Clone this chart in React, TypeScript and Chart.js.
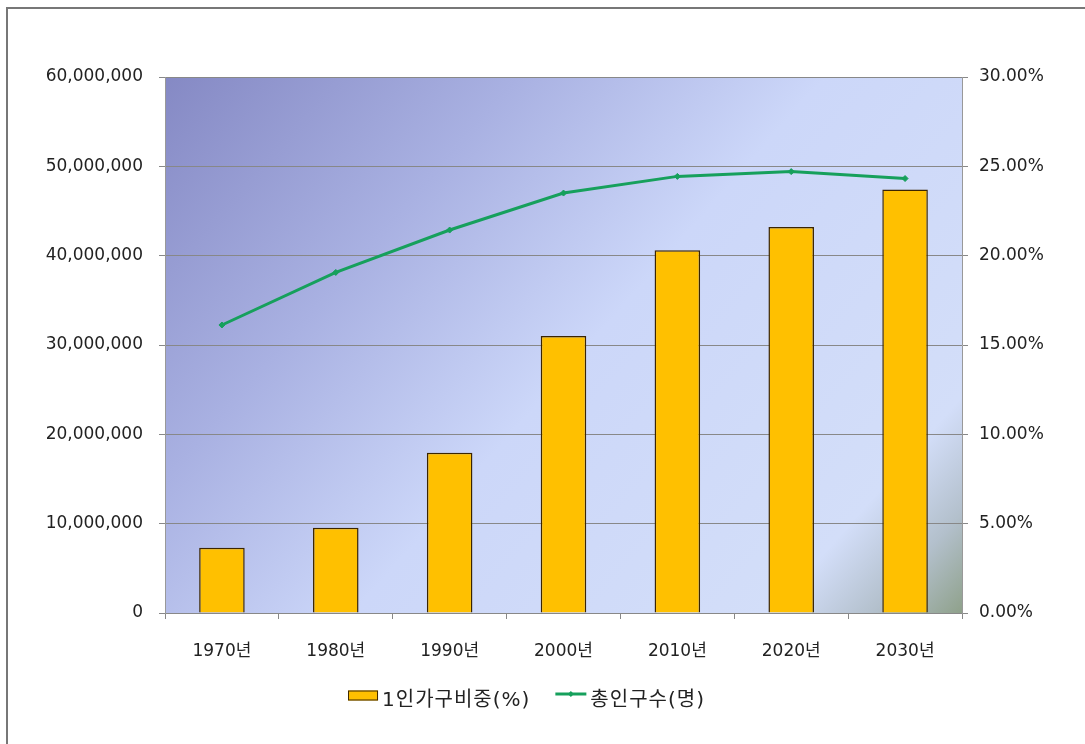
import React, { useEffect, useRef } from "react";
import { Chart, registerables } from "chart.js";

Chart.register(...registerables);

const categories = ["1970년", "1980년", "1990년", "2000년", "2010년", "2020년", "2030년"];
const singleHouseholdShare = [3.65, 4.77, 8.97, 15.5, 20.3, 21.6, 23.7];
const totalPopulation = [32240000, 38124000, 42869000, 47008000, 48875000, 49410000, 48635000];
const leftTicks = [0, 10000000, 20000000, 30000000, 40000000, 50000000, 60000000];
const rightTicks = [0, 5, 10, 15, 20, 25, 30];

const FONT = '"DejaVu Sans", "Noto Sans CJK KR", sans-serif';
const BAR_COLOR = "#ffc000";
const BAR_BORDER = "#3b2500";
const LINE_COLOR = "#16a05c";

const bgPlugin = {
  id: "bgPlugin",
  beforeDraw(chart: any) {
    const { ctx, chartArea } = chart;
    const { left, top, right, bottom } = chartArea;
    ctx.save();
    ctx.fillStyle = "#ffffff";
    ctx.fillRect(0, 0, chart.width, chart.height);
    const dx = right - left;
    const dy = bottom - top;
    const ux = 173, uy = 152;
    const len2 = ux * ux + uy * uy;
    const k = (dx * ux + dy * uy) / len2;
    const g = ctx.createLinearGradient(left, top, left + ux * k, top + uy * k);
    g.addColorStop(0, "#8589c4");
    g.addColorStop(0.28, "#a9b1e2");
    g.addColorStop(0.52, "#ccd7f9");
    g.addColorStop(0.85, "#d3def9");
    g.addColorStop(0.93, "#b3c0cc");
    g.addColorStop(1, "#8fa18b");
    ctx.fillStyle = g;
    ctx.fillRect(left, top, dx, dy);
    ctx.strokeStyle = "#777777";
    ctx.lineWidth = 2;
    ctx.beginPath();
    ctx.moveTo(7, chart.height);
    ctx.lineTo(7, 8);
    ctx.lineTo(chart.width, 8);
    ctx.stroke();
    ctx.restore();
  },
};

const legendPlugin = {
  id: "customLegend",
  afterDraw(chart: any) {
    const { ctx } = chart;
    const ds = chart.data.datasets;
    ctx.save();
    ctx.font = "20px " + FONT;
    try {
      (ctx as any).letterSpacing = "1px";
    } catch (e) {}
    ctx.textBaseline = "middle";
    ctx.textAlign = "left";
    const w1 = ctx.measureText(ds[0].label).width;
    const w2 = ctx.measureText(ds[1].label).width;
    const total = 30 + 4 + w1 + 25 + 31 + 4 + w2;
    const centerX = 526.5;
    const textY = 701;
    const markY = 695.5;
    let x = centerX - total / 2;
    ctx.fillStyle = BAR_COLOR;
    ctx.fillRect(x, markY - 5, 30, 10);
    ctx.strokeStyle = BAR_BORDER;
    ctx.lineWidth = 1;
    ctx.strokeRect(x + 0.5, markY - 5 + 0.5, 29, 9);
    x += 34;
    ctx.fillStyle = "#222222";
    ctx.fillText(ds[0].label, x, textY);
    x += w1 + 25;
    ctx.strokeStyle = LINE_COLOR;
    ctx.lineWidth = 3;
    ctx.beginPath();
    ctx.moveTo(x, markY - 1.5);
    ctx.lineTo(x + 31, markY - 1.5);
    ctx.stroke();
    ctx.fillStyle = LINE_COLOR;
    ctx.beginPath();
    ctx.moveTo(x + 15.5, markY - 4.5);
    ctx.lineTo(x + 18.5, markY - 1.5);
    ctx.lineTo(x + 15.5, markY + 1.5);
    ctx.lineTo(x + 12.5, markY - 1.5);
    ctx.closePath();
    ctx.fill();
    x += 35;
    ctx.fillStyle = "#222222";
    ctx.fillText(ds[1].label, x, textY);
    ctx.restore();
  },
};

export default function App() {
  const ref = useRef<HTMLCanvasElement | null>(null);
  useEffect(() => {
    if (!ref.current) return;
    const chart = new Chart(ref.current, {
      type: "bar",
      data: {
        labels: categories,
        datasets: [
          {
            type: "bar",
            label: "1인가구비중(%)",
            data: singleHouseholdShare,
            yAxisID: "yRight",
            backgroundColor: BAR_COLOR,
            borderColor: BAR_BORDER,
            borderWidth: 1.5,
            barPercentage: 0.4,
            categoryPercentage: 1,
            order: 2,
          },
          {
            type: "line",
            label: "총인구수(명)",
            data: totalPopulation,
            yAxisID: "yLeft",
            borderColor: LINE_COLOR,
            backgroundColor: LINE_COLOR,
            borderWidth: 3,
            pointStyle: "rectRot",
            pointRadius: 3,
            pointBorderWidth: 1,
            tension: 0,
            order: 1,
          } as any,
        ],
      },
      options: {
        animation: false,
        responsive: false,
        maintainAspectRatio: false,
        layout: { padding: { top: 77, left: 0, right: 0, bottom: 62 } },
        plugins: {
          tooltip: { enabled: false },
          legend: { display: false },
        },
        scales: {
          x: {
            offset: true,
            grid: {
              offset: true,
              drawOnChartArea: false,
              drawTicks: true,
              tickLength: 6,
              color: "#888888",
            },
            border: { color: "#888888", width: 1 },
            ticks: {
              color: "#222222",
              font: { family: FONT, size: 17 },
              padding: 22,
              maxRotation: 0,
            },
            afterFit(scale: any) {
              scale.height = 69;
            },
          },
          yLeft: {
            type: "linear",
            position: "left",
            min: 0,
            max: 60000000,
            afterBuildTicks(scale: any) {
              scale.ticks = leftTicks.map((v) => ({ value: v }));
            },
            grid: {
              color: "#888888",
              lineWidth: 1,
              tickLength: 6,
            },
            border: { color: "#999999", width: 1 },
            ticks: {
              color: "#222222",
              font: { family: FONT, size: 17 },
              padding: 16,
              callback: (v: any) => Number(v).toLocaleString("en-US"),
            },
            afterFit(scale: any) {
              scale.width = 165;
            },
          },
          yRight: {
            type: "linear",
            position: "right",
            min: 0,
            max: 30,
            afterBuildTicks(scale: any) {
              scale.ticks = rightTicks.map((v) => ({ value: v }));
            },
            grid: {
              drawOnChartArea: false,
              color: "#888888",
              tickLength: 6,
            },
            border: { color: "#999999", width: 1 },
            ticks: {
              color: "#222222",
              font: { family: FONT, size: 17 },
              padding: 11,
              callback: (v: any) => Number(v).toFixed(2) + "%",
            },
            afterFit(scale: any) {
              scale.width = 123;
            },
          },
        },
      },
      plugins: [bgPlugin, legendPlugin],
    });
    return () => chart.destroy();
  }, []);
  return (
    <div style={{ position: "fixed", left: 0, top: 0, width: 1085, height: 744 }}>
      <canvas ref={ref} width={1085} height={744} style={{ width: 1085, height: 744 }} />
    </div>
  );
}
